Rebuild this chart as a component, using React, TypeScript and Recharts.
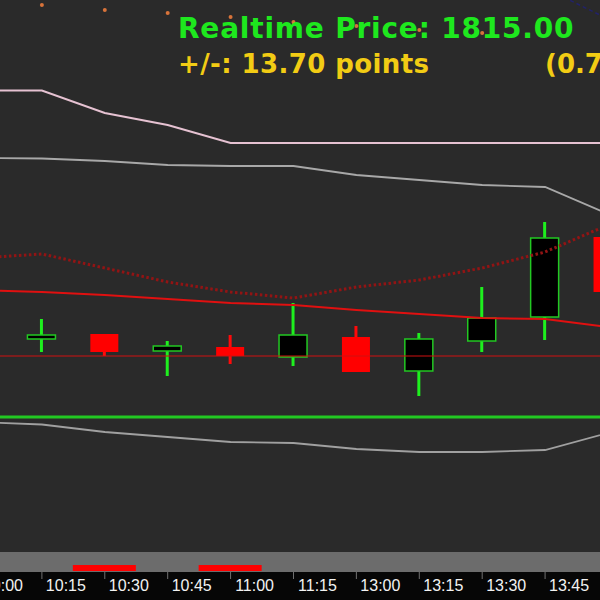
import React from "react";
import { ComposedChart, Line, Bar, XAxis, YAxis, ReferenceLine } from "recharts";

// 15 minute slots, first one only partly visible on the left edge
const times = ["10:00", "10:15", "10:30", "10:45", "11:00", "11:15", "13:00", "13:15", "13:30", "13:45", "14:00"];
const slots = times.map((_, i) => i);

const open = [null, 1782.2, 1783.2, 1779.8, 1780.6, 1778.6, 1782.6, 1775.8, 1781.8, 1786.6, 1802.6];
const high = [null, 1786.2, 1783.2, 1781.8, 1783.0, 1789.4, 1784.8, 1783.4, 1792.6, 1805.6, 1802.6];
const low = [null, 1779.6, 1778.8, 1774.8, 1777.2, 1776.8, 1775.6, 1770.8, 1779.6, 1782.0, 1791.6];
const close = [null, 1783.0, 1779.6, 1780.8, 1778.8, 1783.0, 1775.6, 1782.2, 1786.4, 1802.4, 1791.6];

const upperBand = [1831.9, 1831.9, 1827.4, 1825.0, 1821.4, 1821.4, 1821.4, 1821.4, 1821.4, 1821.4, 1821.4];
const upperEnv = [1818.4, 1818.3, 1817.8, 1817.0, 1816.8, 1816.8, 1815.0, 1814.0, 1813.0, 1812.6, 1807.2];
const lowerEnv = [1765.6, 1765.1, 1763.6, 1762.6, 1761.6, 1761.4, 1760.2, 1759.6, 1759.6, 1760.0, 1763.4];
const movingAvg = [1792.0, 1791.6, 1791.0, 1790.2, 1789.4, 1789.0, 1788.0, 1787.2, 1786.4, 1786.2, 1784.6];
const fastAvg = [1798.4, 1799.2, 1796.4, 1793.6, 1791.6, 1790.4, 1792.6, 1794.0, 1796.4, 1799.6, 1805.0];
const sarDots = [null, 1849.0, 1848.0, 1847.4, 1846.6, 1845.6, 1844.8, 1844.0, 1843.4, null, null];
const trail = [null, null, null, null, null, null, null, null, null, 1852.4, 1846.2];
const signal = [0, 0, 1, 0, 1, 0, 0, 0, 0, 0, 0];

const SUPPORT = 1778.8;
const FLOOR = 1766.6;

const rows = slots.map((i) => ({
  slot: i,
  open: open[i],
  high: high[i],
  low: low[i],
  close: close[i],
  range: open[i] == null ? null : [low[i], high[i]],
  upperBand: upperBand[i],
  upperEnv: upperEnv[i],
  lowerEnv: lowerEnv[i],
  movingAvg: movingAvg[i],
  fastAvg: fastAvg[i],
  sar: sarDots[i],
  trail: trail[i],
  signal: signal[i] ? [1, 7] : null,
}));

const xDomain = [0.334, 9.873];

const Candle = (props: any) => {
  const { x, y, width, height, payload } = props;
  if (!payload || payload.open == null) return null;
  const top0 = Math.min(y, y + height);
  const h = Math.abs(height);
  const span = payload.high - payload.low || 1;
  const py = (v: number) => top0 + ((payload.high - v) / span) * h;
  const up = payload.close >= payload.open;
  const cx = x + width / 2;
  const bTop = py(Math.max(payload.open, payload.close));
  const bBot = py(Math.min(payload.open, payload.close));
  return (
    <g>
      <line x1={cx} x2={cx} y1={top0} y2={top0 + h} stroke={up ? "#1ef01e" : "#ff0a0a"} strokeWidth={3} />
      <rect
        x={x}
        y={bTop}
        width={width}
        height={Math.max(bBot - bTop, 3)}
        fill={up ? "#000000" : "#ff0000"}
        stroke={up ? "#22c822" : "none"}
        strokeWidth={1.5}
      />
    </g>
  );
};

// signal strip marks fill the whole slot
const SignalMark = (props: any) => {
  const { x, y, width, height } = props;
  if (!height) return null;
  const w = 63;
  return <rect x={x + width / 2 - w / 2} y={Math.min(y, y + height)} width={w} height={Math.abs(height)} fill="#ff0000" />;
};

const TimeTick = (props: any) => {
  const { x, y, payload } = props;
  return (
    <g>
      <line x1={x} x2={x} y1={y} y2={y + 7} stroke="#707070" strokeWidth={1} />
      <text x={x + 24} y={y + 19} textAnchor="middle" fill="#f2f2f2" fontSize={16} fontFamily="'Liberation Sans', Arial, sans-serif">
        {times[payload.value]}
      </text>
    </g>
  );
};

export default function App() {
  return (
    <div style={{ position: "absolute", left: 0, top: 0, width: 600, height: 600, background: "#2a2a2a", overflow: "hidden" }}>
      <ComposedChart width={600} height={552} data={rows} margin={{ top: 0, right: 0, bottom: 0, left: 0 }}>
        <XAxis type="number" dataKey="slot" domain={xDomain} allowDataOverflow hide />
        <YAxis domain={[1739.6, 1850]} allowDataOverflow hide />
        <ReferenceLine y={SUPPORT} stroke="#d01010" strokeWidth={1} />
        <ReferenceLine y={FLOOR} stroke="#22c822" strokeWidth={3} />
        <Line dataKey="upperBand" stroke="#e6c2d2" strokeWidth={2} dot={false} isAnimationActive={false} />
        <Line dataKey="upperEnv" stroke="#a8a8a8" strokeWidth={1.8} dot={false} isAnimationActive={false} />
        <Line dataKey="lowerEnv" stroke="#a0a0a0" strokeWidth={1.8} dot={false} isAnimationActive={false} />
        <Line dataKey="fastAvg" stroke="#921414" strokeWidth={3} strokeDasharray="2.5 2.5" dot={false} isAnimationActive={false} />
        <Line dataKey="movingAvg" stroke="#e01010" strokeWidth={2} dot={false} isAnimationActive={false} />
        <Line dataKey="trail" stroke="#22226a" strokeWidth={1.5} strokeDasharray="4 3" dot={false} isAnimationActive={false} />
        <Bar dataKey="range" barSize={28} shape={<Candle />} isAnimationActive={false} />
        <Line dataKey="sar" stroke="none" dot={{ r: 2, fill: "#d8733a", stroke: "none" }} isAnimationActive={false} />
      </ComposedChart>
      <div style={{ position: "absolute", left: 0, top: 552, width: 600, height: 48, background: "linear-gradient(#6c6c6c 0px, #6c6c6c 20px, #060606 20px, #060606 100%)" }}>
        <ComposedChart width={600} height={48} data={rows} margin={{ top: 0, right: 0, bottom: 0, left: 0 }}>
          <XAxis
            type="number"
            dataKey="slot"
            domain={xDomain}
            allowDataOverflow
            ticks={slots}
            interval={0}
            height={28}
            axisLine={false}
            tickLine={false}
            tickSize={0}
            tickMargin={0}
            tick={<TimeTick />}
          />
          <YAxis domain={[0, 20]} hide />
          <Bar dataKey="signal" barSize={28} shape={<SignalMark />} isAnimationActive={false} />
        </ComposedChart>
      </div>
      <svg width={600} height={100} style={{ position: "absolute", left: 0, top: 0 }}>
        <text x={178} y={38} fill="#1ee81e" fontSize={28} fontWeight="bold" letterSpacing={0.8} fontFamily="'DejaVu Sans', Verdana, sans-serif">
          Realtime Price: 1815.00
        </text>
        <text x={178} y={73} fill="#f2cc14" fontSize={26} fontWeight="bold" letterSpacing={0.4} fontFamily="'DejaVu Sans', Verdana, sans-serif">
          +/-: 13.70 points
        </text>
        <text x={545} y={73} fill="#f2cc14" fontSize={26} fontWeight="bold" fontFamily="'DejaVu Sans', Verdana, sans-serif">
          (0.76%)
        </text>
      </svg>
    </div>
  );
}
